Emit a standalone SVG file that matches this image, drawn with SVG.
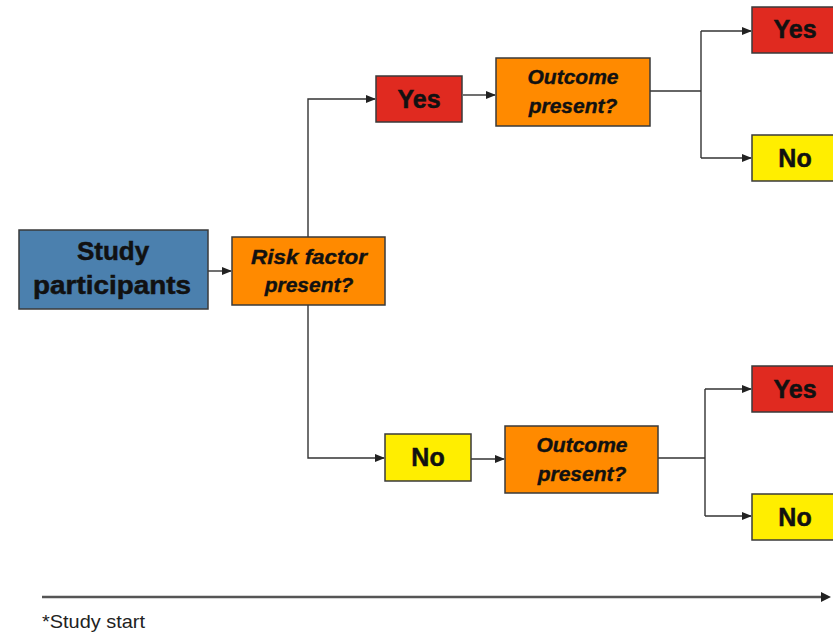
<svg xmlns="http://www.w3.org/2000/svg" width="833" height="634" viewBox="0 0 833 634">
<defs>
<marker id="ah" markerWidth="10" markerHeight="8" refX="9" refY="4" orient="auto" markerUnits="userSpaceOnUse">
<path d="M0,0 L10,4 L0,8 z" fill="#222"/>
</marker>
<style>
.box{stroke:#3a3a3a;stroke-width:1.5}
.blue{fill:#4b80ae}
.orange{fill:#ff8a00}
.red{fill:#e02a20}
.yellow{fill:#ffee00}
.lbl{font-family:"Liberation Sans",Arial,sans-serif;font-weight:bold;fill:#111;stroke:#111;stroke-width:0.5;text-anchor:middle}
.q{font-family:"Liberation Sans",Arial,sans-serif;font-weight:bold;font-style:italic;fill:#111;stroke:#111;stroke-width:0.4;text-anchor:middle;font-size:21px}
.yn{font-size:25px}
.conn{fill:none;stroke:#333;stroke-width:1.4}
</style>
</defs>
<rect width="833" height="634" fill="#ffffff"/>
<g id="connectors">
<path class="conn" d="M207,271 H231" marker-end="url(#ah)"/>
<path class="conn" d="M308,237 V99 H375" marker-end="url(#ah)"/>
<path class="conn" d="M308,305 V458 H384" marker-end="url(#ah)"/>
<path class="conn" d="M463,95 H495" marker-end="url(#ah)"/>
<path class="conn" d="M471,459 H504" marker-end="url(#ah)"/>
<path class="conn" d="M650,91 H701"/>
<path class="conn" d="M701,31 V158"/>
<path class="conn" d="M701,31 H751" marker-end="url(#ah)"/>
<path class="conn" d="M701,158 H751" marker-end="url(#ah)"/>
<path class="conn" d="M658,458 H705"/>
<path class="conn" d="M705,389 V516"/>
<path class="conn" d="M705,389 H751" marker-end="url(#ah)"/>
<path class="conn" d="M705,516 H751" marker-end="url(#ah)"/>
</g>
<g id="study-participants">
<rect class="box blue" x="19" y="230" width="189" height="79"/>
<text class="lbl" x="113" y="260" font-size="26">Study</text>
<text class="lbl" x="112" y="294" font-size="26" textLength="158" lengthAdjust="spacingAndGlyphs">participants</text>
</g>
<g id="risk-factor">
<rect class="box orange" x="232" y="237" width="153" height="68"/>
<text class="q" x="309" y="264" textLength="116" lengthAdjust="spacingAndGlyphs">Risk factor</text>
<text class="q" x="309" y="292">present?</text>
</g>
<g id="yes-rf">
<rect class="box red" x="376" y="76" width="86" height="46"/>
<text class="lbl yn" x="419" y="108">Yes</text>
</g>
<g id="outcome-yes">
<rect class="box orange" x="496" y="58" width="154" height="68"/>
<text class="q" x="573" y="84">Outcome</text>
<text class="q" x="573" y="113">present?</text>
</g>
<g id="yes-yes">
<rect class="box red" x="752" y="7" width="90" height="46"/>
<text class="lbl yn" x="795" y="38">Yes</text>
</g>
<g id="yes-no">
<rect class="box yellow" x="752" y="135" width="90" height="46"/>
<text class="lbl yn" x="795" y="167">No</text>
</g>
<g id="no-rf">
<rect class="box yellow" x="385" y="434" width="86" height="47"/>
<text class="lbl yn" x="428" y="466">No</text>
</g>
<g id="outcome-no">
<rect class="box orange" x="505" y="426" width="153" height="67"/>
<text class="q" x="582" y="452">Outcome</text>
<text class="q" x="582" y="481">present?</text>
</g>
<g id="no-yes">
<rect class="box red" x="752" y="366" width="90" height="46"/>
<text class="lbl yn" x="795" y="398">Yes</text>
</g>
<g id="no-no">
<rect class="box yellow" x="752" y="494" width="90" height="46"/>
<text class="lbl yn" x="795" y="526">No</text>
</g>
<g id="timeline">
<path d="M42,597 H822" stroke="#555" stroke-width="2.4" fill="none"/>
<path d="M821,592 L831,597 L821,602 z" fill="#222"/>
<text x="42" y="628" font-family="Liberation Sans Narrow,Liberation Sans,Arial,sans-serif" font-size="19" fill="#222" textLength="103" lengthAdjust="spacingAndGlyphs">*Study start</text>
</g>
</svg>
